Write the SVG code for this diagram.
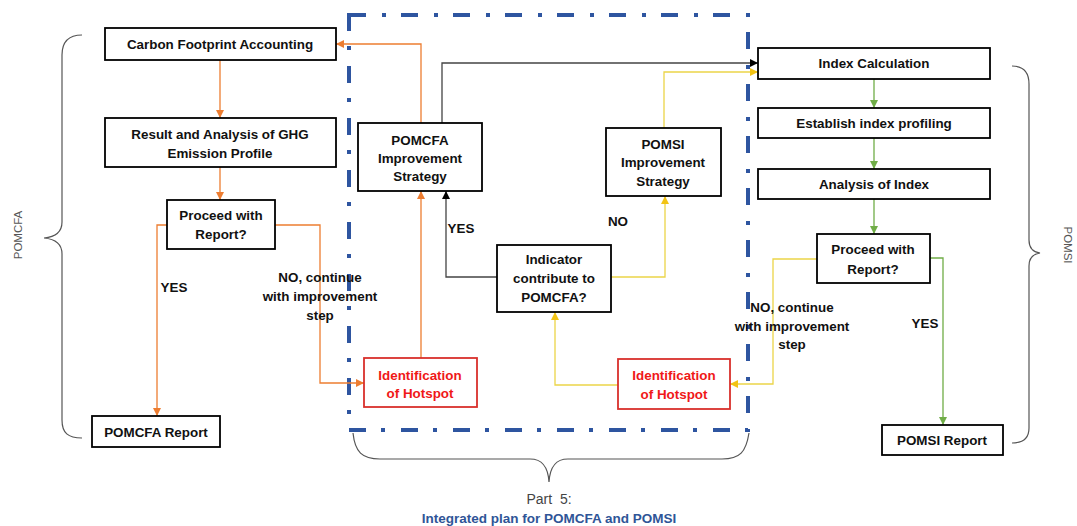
<svg xmlns="http://www.w3.org/2000/svg" width="1077" height="526" viewBox="0 0 1077 526">
<style>
.box{fill:#fff;stroke:#000;stroke-width:1.8}
.rbox{fill:#fff;stroke:#D9302C;stroke-width:1.8}
.t{font-family:"Liberation Sans",Arial,sans-serif;font-weight:bold;font-size:13.4px;fill:#111;text-anchor:middle}
.tr{fill:#F01818}
.side{font-family:"Liberation Sans",Arial,sans-serif;font-size:11.5px;fill:#555;text-anchor:middle}
.brace{fill:none;stroke:#555;stroke-width:1.2}
.c{fill:none;stroke-width:1.3}
.o{stroke:#ED7D31}
.k{stroke:#444}
.y{stroke:#EBD548}
.g{stroke:#70AD47}
</style>
<defs>
<marker id="ao" markerWidth="9" markerHeight="9" refX="8" refY="4" orient="auto" markerUnits="userSpaceOnUse"><path d="M0,0 L8,4 L0,8 z" fill="#ED7D31"/></marker>
<marker id="ak" markerWidth="9" markerHeight="9" refX="8" refY="4" orient="auto" markerUnits="userSpaceOnUse"><path d="M0,0 L8,4 L0,8 z" fill="#000"/></marker>
<marker id="ay" markerWidth="9" markerHeight="9" refX="8" refY="4" orient="auto" markerUnits="userSpaceOnUse"><path d="M0,0 L8,4 L0,8 z" fill="#F2C314"/></marker>
<marker id="ag" markerWidth="9" markerHeight="9" refX="8" refY="4" orient="auto" markerUnits="userSpaceOnUse"><path d="M0,0 L8,4 L0,8 z" fill="#70AD47"/></marker>
</defs>
<rect width="1077" height="526" fill="#fff"/>

<!-- dashed integration frame -->
<rect id="frame" x="349" y="15" width="399" height="415" fill="none" stroke="#2E55A0" stroke-width="4" stroke-dasharray="17 16 4 15"/>

<!-- braces -->
<g id="braces">
<path class="brace" d="M82 35 C68 35 62 42 62 55 L62 222 C62 232 55 237 44 238 C55 239 62 244 62 254 L62 420 C62 433 68 438 82 438"/>
<path class="brace" d="M1012 66 C1024 66 1029 72 1029 84 L1029 240 C1029 248 1033 252 1040 253 C1033 254 1029 258 1029 266 L1029 428 C1029 438 1024 443 1012 443"/>
<path class="brace" d="M353 433 C355 452 362 459 380 459 L530 459 C542 459 548 466 549 482 C550 466 556 459 568 459 L722 459 C740 459 746 452 749 433"/>
<text class="side" transform="translate(22 235) rotate(-90)">POMCFA</text>
<text class="side" transform="translate(1064 245) rotate(90)">POMSI</text>
<text x="549" y="504" style="font-family:'Liberation Sans',Arial,sans-serif;font-size:14px;fill:#444;text-anchor:middle">Part&#160; 5:</text>
<text x="549" y="523" style="font-family:'Liberation Sans',Arial,sans-serif;font-size:13.5px;font-weight:bold;fill:#2F5597;text-anchor:middle">Integrated plan for POMCFA and POMSI</text>
</g>

<!-- connectors -->
<g id="connectors">
<path class="c o" d="M220 60 V118" marker-end="url(#ao)"/>
<path class="c o" d="M220 167 V200" marker-end="url(#ao)"/>
<path class="c o" d="M167 225 H157 V416" marker-end="url(#ao)"/>
<path class="c o" d="M275 225 H320 V383 H364" marker-end="url(#ao)"/>
<path class="c o" d="M421 358 V191" marker-end="url(#ao)"/>
<path class="c o" d="M421 123 V44 H336" marker-end="url(#ao)"/>
<path class="c k" d="M442 123 V63 H758" marker-end="url(#ak)"/>
<path class="c k" d="M497 277 H446 V191" marker-end="url(#ak)"/>
<path class="c y" d="M664 128 V72 H758" marker-end="url(#ay)"/>
<path class="c y" d="M611 277 H665 V196" marker-end="url(#ay)"/>
<path class="c y" d="M618 385 H555 V312" marker-end="url(#ay)"/>
<path class="c y" d="M817 259 H773 V384 H730" marker-end="url(#ay)"/>
<path class="c g" d="M874 79 V108" marker-end="url(#ag)"/>
<path class="c g" d="M874 138 V169" marker-end="url(#ag)"/>
<path class="c g" d="M874 199 V234" marker-end="url(#ag)"/>
<path class="c g" d="M930 258 H943 V425" marker-end="url(#ag)"/>
<text class="t" x="174" y="292">YES</text>
<text class="t" x="320" y="282">NO, continue</text>
<text class="t" x="320" y="301">with improvement</text>
<text class="t" x="320" y="320">step</text>
<text class="t" x="461" y="233">YES</text>
<text class="t" x="618" y="226">NO</text>
<text class="t" x="925" y="328">YES</text>
<text class="t" x="792" y="312">NO, continue</text>
<text class="t" x="792" y="331">with improvement</text>
<text class="t" x="792" y="349">step</text>
</g>

<!-- nodes -->
<g id="carbon"><rect class="box" x="105" y="28" width="231" height="32"/><text class="t" x="220" y="49">Carbon Footprint Accounting</text></g>
<g id="result"><rect class="box" x="105" y="118" width="231" height="49"/><text class="t" x="220" y="139">Result and Analysis of GHG</text><text class="t" x="220" y="158">Emission Profile</text></g>
<g id="proceed-left"><rect class="box" x="167" y="200" width="108" height="49"/><text class="t" x="221" y="220">Proceed with</text><text class="t" x="221" y="239">Report?</text></g>
<g id="pomcfa-report"><rect class="box" x="92" y="416" width="128" height="31"/><text class="t" x="156" y="437">POMCFA Report</text></g>
<g id="pomcfa-strategy"><rect class="box" x="358" y="123" width="124" height="68"/><text class="t" x="420" y="145">POMCFA</text><text class="t" x="420" y="163">Improvement</text><text class="t" x="420" y="181">Strategy</text></g>
<g id="pomsi-strategy"><rect class="box" x="606" y="128" width="115" height="68"/><text class="t" x="663" y="149">POMSI</text><text class="t" x="663" y="167">Improvement</text><text class="t" x="663" y="186">Strategy</text></g>
<g id="indicator"><rect class="box" x="497" y="245" width="114" height="67"/><text class="t" x="554" y="264">Indicator</text><text class="t" x="554" y="283">contribute to</text><text class="t" x="554" y="302">POMCFA?</text></g>
<g id="hotspot-left"><rect class="rbox" x="364" y="358" width="113" height="49"/><text class="t tr" x="420" y="380">Identification</text><text class="t tr" x="420" y="398">of Hotspot</text></g>
<g id="hotspot-right"><rect class="rbox" x="618" y="359" width="112" height="50"/><text class="t tr" x="674" y="380">Identification</text><text class="t tr" x="674" y="399">of Hotspot</text></g>
<g id="index-calc"><rect class="box" x="758" y="48" width="232" height="31"/><text class="t" x="874" y="68">Index Calculation</text></g>
<g id="index-profiling"><rect class="box" x="758" y="108" width="232" height="30"/><text class="t" x="874" y="128">Establish index profiling</text></g>
<g id="index-analysis"><rect class="box" x="758" y="169" width="232" height="30"/><text class="t" x="874" y="189">Analysis of Index</text></g>
<g id="proceed-right"><rect class="box" x="817" y="234" width="113" height="49"/><text class="t" x="873" y="254">Proceed with</text><text class="t" x="873" y="274">Report?</text></g>
<g id="pomsi-report"><rect class="box" x="882" y="425" width="121" height="30"/><text class="t" x="942" y="445">POMSI Report</text></g>
</svg>
